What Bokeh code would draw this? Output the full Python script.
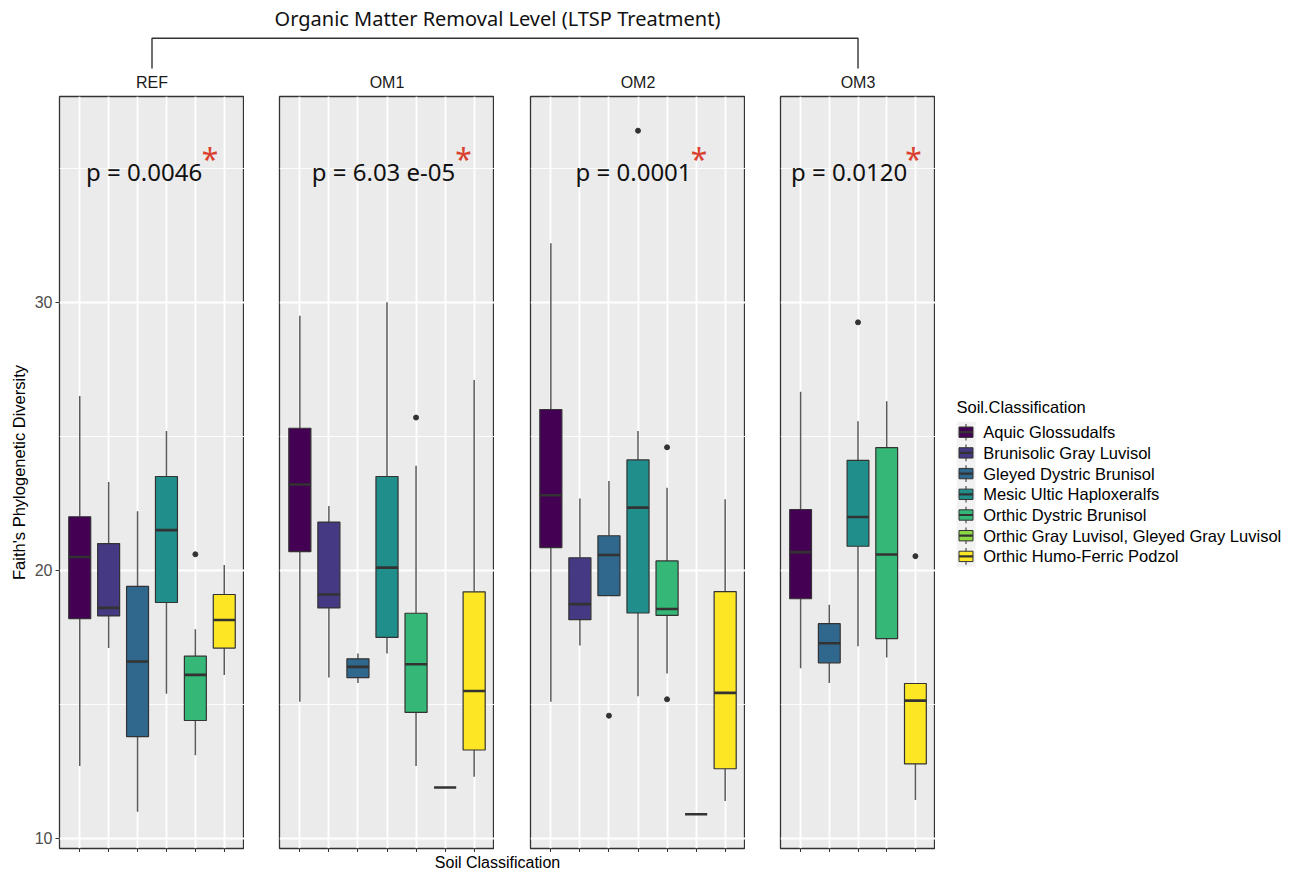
from bokeh.plotting import figure
from bokeh.models import (FactorRange, Range1d, FixedTicker, ColumnDataSource,
                          CustomLabelingPolicy)
from bokeh.layouts import column, row
from bokeh.embed import file_html
from bokeh.resources import INLINE
from bokeh.core.properties import value
from bokeh.palettes import Viridis7

# ---------------- data ----------------
SOIL_TYPES = ["Aquic Glossudalfs", "Brunisolic Gray Luvisol", "Gleyed Dystric Brunisol",
              "Mesic Ultic Haploxeralfs", "Orthic Dystric Brunisol",
              "Orthic Gray Luvisol, Gleyed Gray Luvisol", "Orthic Humo-Ferric Podzol"]
TREATMENTS = ["REF", "OM1", "OM2", "OM3"]
P_LABELS = ["p = 0.0046", "p = 6.03 e-05", "p = 0.0001", "p = 0.0120"]
Y_MAJOR = [10, 20, 30]
Y_MINOR = [15, 25, 35]

REF_SOILS = [SOIL_TYPES[i] for i in (0, 1, 2, 3, 4, 6)]
REF_LOWER = [12.7, 17.1, 11.0, 15.4, 13.1, 16.1]
REF_Q1 = [18.2, 18.3, 13.8, 18.8, 14.4, 17.1]
REF_MEDIAN = [20.5, 18.6, 16.6, 21.5, 16.1, 18.15]
REF_Q3 = [22.0, 21.0, 19.4, 23.5, 16.8, 19.1]
REF_UPPER = [26.5, 23.3, 22.2, 25.2, 17.8, 20.2]
REF_OUT_SOIL = [SOIL_TYPES[4]]
REF_OUT_VAL = [20.6]

OM1_SOILS = list(SOIL_TYPES)
OM1_LOWER = [15.1, 16.0, 15.8, 16.9, 12.7, 11.9, 12.3]
OM1_Q1 = [20.7, 18.6, 16.0, 17.5, 14.7, 11.9, 13.3]
OM1_MEDIAN = [23.2, 19.1, 16.4, 20.1, 16.5, 11.9, 15.5]
OM1_Q3 = [25.3, 21.8, 16.7, 23.5, 18.4, 11.9, 19.2]
OM1_UPPER = [29.5, 22.4, 16.9, 30.0, 23.9, 11.9, 27.1]
OM1_OUT_SOIL = [SOIL_TYPES[4]]
OM1_OUT_VAL = [25.7]

OM2_SOILS = list(SOIL_TYPES)
OM2_LOWER = [15.1, 17.2, 19.06, 15.3, 16.15, 10.9, 11.4]
OM2_Q1 = [20.85, 18.16, 19.06, 18.41, 18.32, 10.9, 12.6]
OM2_MEDIAN = [22.8, 18.74, 20.57, 22.34, 18.56, 10.9, 15.43]
OM2_Q3 = [26.0, 20.47, 21.29, 24.12, 20.35, 10.9, 19.21]
OM2_UPPER = [32.2, 22.68, 23.33, 25.2, 23.08, 10.9, 22.65]
OM2_OUT_SOIL = [SOIL_TYPES[2], SOIL_TYPES[3], SOIL_TYPES[4], SOIL_TYPES[4]]
OM2_OUT_VAL = [14.58, 36.4, 24.59, 15.19]

OM3_SOILS = [SOIL_TYPES[i] for i in (0, 2, 3, 4, 6)]
OM3_LOWER = [16.35, 15.8, 17.17, 16.75, 11.43]
OM3_Q1 = [18.94, 16.55, 20.9, 17.45, 12.78]
OM3_MEDIAN = [20.68, 17.28, 21.99, 20.59, 15.14]
OM3_Q3 = [22.27, 18.01, 24.1, 24.58, 15.78]
OM3_UPPER = [26.66, 18.72, 25.56, 26.31, 15.78]
OM3_OUT_SOIL = [SOIL_TYPES[3], SOIL_TYPES[6]]
OM3_OUT_VAL = [29.25, 20.53]

# annotation placement (category units from the panel's left edge; y in data units)
P_LABEL_LEFT = [0.82, 1.01, 1.45, 0.27]
STAR_CENTER = [5.11, 6.23, 5.70, 4.53]
P_LABEL_Y = 34.86
STAR_Y = 35.36

PANELS = [
    (REF_SOILS, REF_LOWER, REF_Q1, REF_MEDIAN, REF_Q3, REF_UPPER, REF_OUT_SOIL, REF_OUT_VAL),
    (OM1_SOILS, OM1_LOWER, OM1_Q1, OM1_MEDIAN, OM1_Q3, OM1_UPPER, OM1_OUT_SOIL, OM1_OUT_VAL),
    (OM2_SOILS, OM2_LOWER, OM2_Q1, OM2_MEDIAN, OM2_Q3, OM2_UPPER, OM2_OUT_SOIL, OM2_OUT_VAL),
    (OM3_SOILS, OM3_LOWER, OM3_Q1, OM3_MEDIAN, OM3_Q3, OM3_UPPER, OM3_OUT_SOIL, OM3_OUT_VAL),
]

COLORS = dict(zip(SOIL_TYPES, Viridis7))

# ---------------- layout constants ----------------
UNIT = 29.85          # px per category
GAP = 35.4
LEFT_AXIS = 59
TOP_H = 90            # title, bracket and strip labels
STRIP_Y = 82
TOP_B = 6
FRAME_H = 752
BOTTOM_B = 4
ROW_H = TOP_B + FRAME_H + BOTTOM_B
BOT_H = 20
LEG_LEFT = 21
LEG_W = 326
KEY_STEP = 20.7
KEY_W = 19
FIRST_KEY_OFFSET = 335.7   # px from frame top to first legend key centre
LEG_TITLE_GAP = 25.7       # px from first key centre up to legend title
DARK = "#333333"
SANS = "Liberation Sans"
NOTO = "Noto Sans"

all_vals = []
for pnl in PANELS:
    all_vals += pnl[1] + pnl[5] + pnl[7]
ymin, ymax = min(all_vals), max(all_vals)
pad = (ymax - ymin) * 0.05
y_range = Range1d(ymin - pad, ymax + pad)

no_labels = CustomLabelingPolicy(code="return [];")

figs = []
frame_lefts = []
frame_rights = []
x_cursor = 0
for k, (soils, lo, q1, med, q3, up, osoil, oval) in enumerate(PANELS):
    n = len(soils)
    fw = round(UNIT * (n + 0.2))
    lb = LEFT_AXIS if k == 0 else round(GAP * k) - round(GAP * (k - 1))
    w = lb + fw
    frame_lefts.append(x_cursor + lb)
    frame_rights.append(x_cursor + lb + fw)
    x_cursor += w
    p = figure(width=w, height=ROW_H, x_range=FactorRange(factors=soils, range_padding=0.2,
                                                            range_padding_units="absolute"),
               y_range=y_range, output_backend="svg", toolbar_location=None)
    p.min_border = 0
    p.min_border_left = lb
    p.min_border_right = 0
    p.min_border_top = TOP_B
    p.min_border_bottom = BOTTOM_B
    p.background_fill_color = "#EBEBEB"
    p.border_fill_color = "white"
    p.outline_line_color = DARK
    p.outline_line_width = 1.3

    p.xgrid.grid_line_color = "white"
    p.xgrid.grid_line_width = 1.8
    p.ygrid.ticker = FixedTicker(ticks=Y_MAJOR, minor_ticks=Y_MINOR)
    p.ygrid.grid_line_color = "white"
    p.ygrid.grid_line_width = 1.8
    p.ygrid.minor_grid_line_color = "white"
    p.ygrid.minor_grid_line_width = 0.9

    p.xaxis.axis_line_color = None
    p.xaxis.major_tick_out = 4
    p.xaxis.major_tick_in = 0
    p.xaxis.major_tick_line_color = DARK
    p.xaxis.major_label_policy = no_labels
    p.xaxis.major_label_text_font_size = "0px"
    p.xaxis.major_label_standoff = 0
    p.xaxis.axis_label_standoff = 0
    if k == 0:
        p.yaxis.ticker = FixedTicker(ticks=Y_MAJOR)
        p.yaxis.axis_line_color = None
        p.yaxis.minor_tick_line_color = None
        p.yaxis.major_tick_out = 4
        p.yaxis.major_tick_in = 0
        p.yaxis.major_tick_line_color = DARK
        p.yaxis.major_label_text_color = "#4D4D4D"
        p.yaxis.major_label_text_font = SANS
        p.yaxis.major_label_text_font_size = "16px"
        p.yaxis.major_label_standoff = 3
        p.yaxis.axis_label = "Faith's Phylogenetic Diversity"
        p.yaxis.axis_label_text_font = SANS
        p.yaxis.axis_label_text_font_size = "16.5px"
        p.yaxis.axis_label_text_font_style = "normal"
        p.yaxis.axis_label_text_color = "black"
        p.yaxis.axis_label_standoff = 4
    else:
        p.yaxis.visible = False

    src = ColumnDataSource(dict(soil=soils, lower=lo, q1=q1, median=med, q3=q3, upper=up,
                                color=[COLORS[s] for s in soils]))
    p.segment(x0="soil", y0="q3", x1="soil", y1="upper", source=src, line_color="#5A5A5A", line_width=1.5)
    p.segment(x0="soil", y0="lower", x1="soil", y1="q1", source=src, line_color="#5A5A5A", line_width=1.5)
    p.vbar(x="soil", bottom="q1", top="q3", width=0.76, source=src, fill_color="color",
           line_color=DARK, line_width=1.2)
    p.rect(x="soil", y="median", width=0.76, height=2.6, height_units="screen", source=src,
           fill_color=DARK, line_color=None)
    p.scatter(x=osoil, y=oval, size=5, fill_color=DARK, line_color=DARK)

    p.text(x=[P_LABEL_LEFT[k] - 0.1], y=[P_LABEL_Y], text=[P_LABELS[k]], text_font=value(NOTO),
           text_font_size="24px", text_color="#111111", text_align="left",
           text_baseline="alphabetic")
    p.text(x=[STAR_CENTER[k] - 0.1], y=[STAR_Y], text=["*"], text_font=value(NOTO),
           text_font_size="30px", text_color="#D9412E", text_align="center",
           text_baseline="alphabetic")
    figs.append(p)

# ---------------- legend ----------------
leg_w = LEG_LEFT + LEG_W
top_units = -FIRST_KEY_OFFSET / KEY_STEP
bottom_units = top_units + FRAME_H / KEY_STEP
leg = figure(width=leg_w, height=ROW_H, x_range=Range1d(0, LEG_W),
             y_range=Range1d(bottom_units, top_units),
             output_backend="svg", toolbar_location=None)
leg.min_border = 0
leg.min_border_left = LEG_LEFT
leg.min_border_right = 0
leg.min_border_top = TOP_B
leg.min_border_bottom = BOTTOM_B
leg.axis.visible = False
leg.grid.visible = False
leg.outline_line_color = None
leg.background_fill_color = "white"
key_rank = list(range(len(SOIL_TYPES)))
lsrc = ColumnDataSource(dict(soil=SOIL_TYPES, color=list(Viridis7), rank=key_rank,
                             kx=[KEY_W / 2] * len(SOIL_TYPES), tx=[KEY_W + 7.7] * len(SOIL_TYPES)))
leg.rect(x="kx", y="rank", width=KEY_W, height=1.0, width_units="screen", source=lsrc,
         fill_color="#F2F2F2", line_color=None)
leg.rect(x="kx", y="rank", width=1.3, height=0.8, width_units="screen", source=lsrc,
         fill_color="#5A5A5A", line_color=None)
leg.rect(x="kx", y="rank", width=14, height=0.5, width_units="screen", source=lsrc,
         fill_color="color", line_color=DARK, line_width=1.0)
leg.rect(x="kx", y="rank", width=14, height=2.2, width_units="screen", height_units="screen",
         source=lsrc, fill_color=DARK, line_color=None)
leg.text(x="tx", y="rank", text="soil", source=lsrc, text_font=value(SANS), text_font_size="16.5px",
         text_color="black", text_align="left", text_baseline="middle")
leg.text(x=[0], y=[-LEG_TITLE_GAP / KEY_STEP], text=["Soil.Classification"], text_font=value(SANS),
         text_font_size="16.5px", text_color="black", text_align="left", text_baseline="middle")

# ---------------- top title, bracket and strip labels ----------------
total_w = x_cursor + leg_w
center_all = (frame_lefts[0] + frame_rights[-1]) / 2
centers = [(a + b) / 2 for a, b in zip(frame_lefts, frame_rights)]
top = figure(width=total_w, height=TOP_H, x_range=Range1d(0, total_w), y_range=Range1d(TOP_H, 0),
             output_backend="svg", toolbar_location=None)
top.min_border = 0
top.axis.visible = False
top.grid.visible = False
top.outline_line_color = None
top.text(x=[center_all], y=[18], text=["Organic Matter Removal Level (LTSP Treatment)"],
         text_font=value(NOTO), text_font_size="20px", text_color="#111111",
         text_align="center", text_baseline="middle")
top.line(x=[centers[0], centers[0], centers[-1], centers[-1]], y=[68, 37.7, 37.7, 68],
         line_color=DARK, line_width=1.4)
top.text(x=centers, y=[STRIP_Y] * len(centers), text=TREATMENTS, text_font=value(SANS),
         text_font_size="16px", text_color="#1A1A1A", text_align="center",
         text_baseline="middle")

bot = figure(width=total_w, height=BOT_H, x_range=Range1d(0, total_w), y_range=Range1d(BOT_H, 0),
             output_backend="svg", toolbar_location=None)
bot.min_border = 0
bot.axis.visible = False
bot.grid.visible = False
bot.outline_line_color = None
bot.text(x=[center_all], y=[BOT_H / 2], text=["Soil Classification"], text_font=value(SANS),
         text_font_size="16px", text_color="black", text_align="center",
         text_baseline="middle")

layout = column(top, row(*figs, leg), bot)
open("out.html", "w").write(file_html(layout, INLINE))
